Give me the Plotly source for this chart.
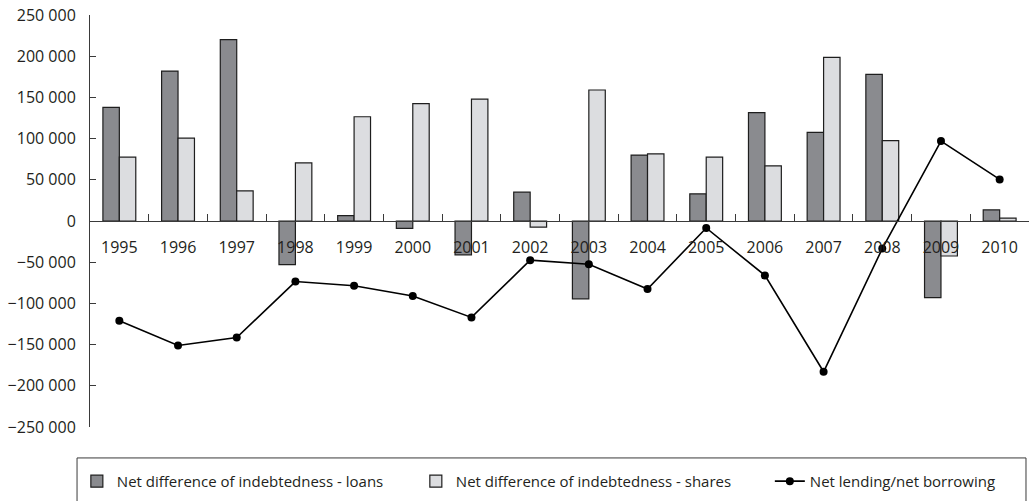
import plotly.graph_objects as go

# Annual series (values in national currency units)
years = ["1995", "1996", "1997", "1998", "1999", "2000", "2001", "2002",
         "2003", "2004", "2005", "2006", "2007", "2008", "2009", "2010"]

loans = [138000, 182000, 220000, -53000, 6500, -9000, -41000, 35000,
         -94500, 80000, 33000, 131500, 107500, 178000, -93000, 13500]

shares = [77500, 100500, 36500, 70500, 126500, 142500, 148000, -7500,
          159000, 81500, 77500, 67000, 198500, 97500, -42500, 3500]

net_lending = [-121000, -151000, -141500, -73500, -78500, -91000, -117000, -47500,
               -52500, -82500, -8500, -66000, -183000, -33500, 97000, 50500]

FONT = "Open Sans"
INK = "#231f20"

fig = go.Figure()

fig.add_trace(go.Bar(
    x=years, y=loans, name="Net difference of indebtedness - loans",
    marker=dict(color="#8a8b8f", line=dict(color="#1e1e1e", width=1.2)),
    legend="legend", showlegend=True,
))
fig.add_trace(go.Bar(
    x=years, y=shares, name="Net difference of indebtedness - shares",
    marker=dict(color="#dcdde0", line=dict(color="#1e1e1e", width=1.2)),
    legend="legend2", showlegend=True,
))
fig.add_trace(go.Scatter(
    x=years, y=net_lending, name="Net lending/net borrowing",
    mode="lines+markers",
    line=dict(color="#000000", width=1.6),
    marker=dict(color="#000000", size=8),
    legend="legend3", showlegend=True,
))

legend_common = dict(
    orientation="h", yanchor="middle", y=-0.132, xanchor="left",
    bgcolor="rgba(0,0,0,0)", borderwidth=0,
    font=dict(family=FONT, size=15, color=INK),
)

fig.update_layout(
    width=1034, height=501,
    margin=dict(l=90, r=5, t=15, b=74, autoexpand=False),
    paper_bgcolor="white", plot_bgcolor="white",
    separators=". ",
    showlegend=True,
    barmode="group", bargap=0.44, bargroupgap=0,
    font=dict(family=FONT, size=16, color=INK),
    legend=dict(x=-0.014, **legend_common),
    legend2=dict(x=0.347, **legend_common),
    legend3=dict(x=0.724, **legend_common),
    xaxis=dict(
        type="category", range=[-0.5, 15.5],
        anchor="free", position=0.5,
        showline=True, linecolor="#3a3a3a", linewidth=1,
        ticks="inside", tickson="boundaries", ticklen=7, tickcolor="#3a3a3a",
        ticklabelstandoff=12,
        showgrid=False, zeroline=False,
        tickfont=dict(family=FONT, size=16, color=INK),
    ),
    yaxis=dict(
        range=[-250000, 250000], dtick=50000, tickformat=",d",
        showline=True, linecolor="#3a3a3a", linewidth=1,
        ticks="inside", ticklen=6, tickcolor="#3a3a3a",
        ticklabelstandoff=10,
        showgrid=False, zeroline=False,
        tickfont=dict(family=FONT, size=16, color=INK),
    ),
    shapes=[dict(
        type="rect", xref="paper", yref="paper",
        x0=-0.0138, x1=0.9968, y0=-0.0751, y1=-0.30,
        line=dict(color="#3a3a3a", width=1), fillcolor="rgba(0,0,0,0)",
        layer="below",
    )],
)

fig.write_html("out.html")
